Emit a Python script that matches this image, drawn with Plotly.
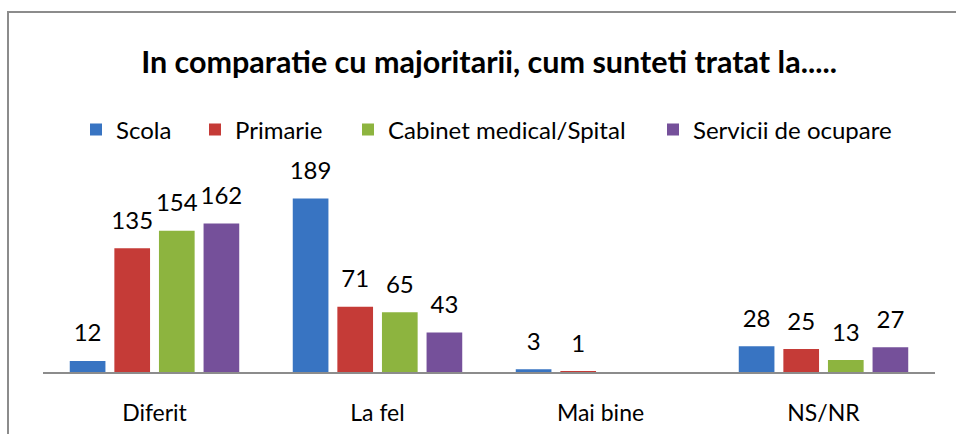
import plotly.graph_objects as go

categories = ["Diferit", "La fel", "Mai bine", "NS/NR"]
series_names = ["Scola", "Primarie", "Cabinet medical/Spital", "Servicii de ocupare"]
scola = [12, 189, 3, 28]
primarie = [135, 71, 1, 25]
cabinet = [154, 65, None, 13]
servicii = [162, 43, None, 27]
title_text = "In comparatie cu majoritarii, cum sunteti tratat la....."

series_values = [scola, primarie, cabinet, servicii]
colors = ["#3874c2", "#c53b37", "#8db43f", "#75509a"]
legend_ids = ["legend", "legend2", "legend3", "legend4"]
legend_px = [76, 195, 348, 653]

FONT = "Lato"
fig = go.Figure()
for i, (name, vals, col) in enumerate(zip(series_names, series_values, colors)):
    fig.add_trace(go.Bar(
        x=categories, y=vals, name=name, marker=dict(color=col, line=dict(width=0)),
        offsetgroup=str(i), hoverinfo="skip", legend=legend_ids[i],
    ))
for i, (name, vals) in enumerate(zip(series_names, series_values)):
    fig.add_trace(go.Scatter(
        x=categories, y=vals, mode="markers+text", text=[("" if v is None else str(v)) for v in vals],
        textposition="top center", marker=dict(size=20, color="rgba(0,0,0,0)"),
        textfont=dict(family=FONT, size=24, color="#000000"),
        offsetgroup=str(i), showlegend=False, hoverinfo="skip", cliponaxis=False,
    ))

legend_common = dict(orientation="h", xanchor="left", xref="container",
                     y=1 - 130 / 434, yref="container", yanchor="middle",
                     font=dict(family=FONT, size=24, color="#000000"), itemwidth=30,
                     bgcolor="rgba(0,0,0,0)", borderwidth=0)
legends = {}
for lid, px in zip(legend_ids, legend_px):
    legends[lid] = dict(legend_common, x=px / 956)

fig.update_layout(
    width=956, height=434,
    margin=dict(l=43, r=21, t=161, b=62, autoexpand=False),
    paper_bgcolor="white", plot_bgcolor="white",
    barmode="group", bargap=0.2, bargroupgap=0.2,
    scattermode="group", scattergap=0.2,
    font=dict(family=FONT, color="#000000"),
    title=dict(text="<b>" + title_text + "</b>", x=0.5, xref="paper", xanchor="center",
               y=1 - 62 / 434, yref="container", yanchor="middle",
               font=dict(family=FONT, size=30.5, color="#000000")),
    xaxis=dict(showline=True, linecolor="#8c8c8c", linewidth=2, ticks="",
               tickfont=dict(family=FONT, size=23, color="#000000"),
               ticklabelstandoff=19, showgrid=False, zeroline=False, automargin=False),
    yaxis=dict(visible=False, range=[0, 230], showgrid=False, zeroline=False, automargin=False),
    shapes=[dict(type="rect", xref="paper", yref="paper",
                 x0=(8 - 43) / 892, x1=1.05, y0=-0.5, y1=(372 - 12) / 211,
                 line=dict(color="#8c8c8c", width=2), layer="below")],
    **legends,
)

fig.write_html("out.html", config={"displayModeBar": False},
               post_script="document.body.style.margin='0px';")
